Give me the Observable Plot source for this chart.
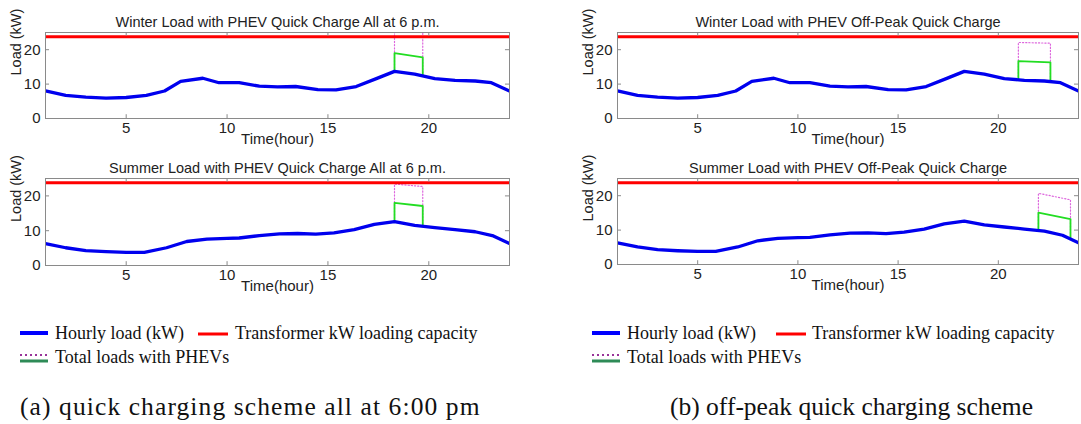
<!DOCTYPE html>
<html><head><meta charset="utf-8">
<script src="https://cdn.jsdelivr.net/npm/d3@7"></script>
<script src="https://cdn.jsdelivr.net/npm/@observablehq/plot@0.6"></script>
<style>
body{margin:0;background:#fff;width:1081px;height:424px;position:relative;overflow:hidden}
.panel{position:absolute}
.panel svg{overflow:visible}
.lg{position:absolute;font-family:"Liberation Serif","Times New Roman",serif;font-size:18px;color:#111;white-space:nowrap;line-height:1}
.cap{position:absolute;font-family:"Liberation Serif","Times New Roman",serif;font-size:25.5px;color:#111;white-space:nowrap;line-height:1}
svg.sw{position:absolute;overflow:visible}
</style></head><body>
<div id="tl" class="panel" style="left:0;top:0"></div>
<div id="bl" class="panel" style="left:0;top:146px"></div>
<div id="tr" class="panel" style="left:570px;top:0"></div>
<div id="br" class="panel" style="left:570px;top:146px"></div>
<div id="legends"></div>
<script>
// ---- data ----
const winterHours = [1,2,3,4,5,6,6.9,7.7,8.8,9.6,10.6,11.6,12.5,13.4,14.5,15.4,16.4,17.4,18.3,19.3,20.3,21.3,22.3,23.1,24];
const winterLoad  = [8.0,6.7,6.2,5.9,6.1,6.7,8.0,10.8,11.7,10.4,10.4,9.4,9.2,9.3,8.4,8.3,9.3,11.6,13.7,12.9,11.6,11.1,10.9,10.4,8.0];
const summerHours = [1,2,3,4,5,5.9,7,8,9,10,10.6,11.6,12.6,13.5,14.4,15.3,16.3,17.3,18.3,19.3,20.3,21.3,22.3,23.2,24];
const summerLoad  = [6.3,5.1,4.3,4.0,3.8,3.8,5.1,6.9,7.6,7.8,7.9,8.6,9.1,9.2,9.0,9.4,10.3,11.8,12.6,11.5,10.9,10.3,9.7,8.5,6.3];
const capacityKW = 23.8;

// PHEV charging windows: start/end hour, base load, totals (green, pink)
const quickWinterT = [18.3, 19.7], quickWinterBase = [13.7, 12.3], quickWinterGreen = [19.0, 17.8], quickWinterPink = [27.0, 26.5];
const quickSummerT = [18.3, 19.7], quickSummerBase = [12.6, 11.3], quickSummerGreen = [18.0, 17.1], quickSummerPink = [23.4, 22.7];
const offWinterT   = [21.0, 22.6], offWinterBase   = [11.2, 10.7], offWinterGreen   = [16.7, 16.3], offWinterPink   = [22.1, 21.9];
const offSummerT   = [22.0, 23.6], offSummerBase   = [9.9, 7.5],   offSummerGreen   = [15.1, 13.2], offSummerPink   = [20.7, 18.8];

const xTicks = [5, 10, 15, 20];
const yTicks = [0, 10, 20];
const titles = [
  "Winter Load with PHEV Quick Charge All at 6 p.m.",
  "Summer Load with PHEV Quick Charge All at 6 p.m.",
  "Winter Load with PHEV Off-Peak Quick Charge",
  "Summer Load with PHEV Off-Peak Quick Charge"
];
const xLabel = "Time(hour)";
const yLabel = "Load (kW)";

function box(t, base, top) {
  return [
    {h: t[0], v: base[0]}, {h: t[0], v: top[0]},
    {h: t[1], v: top[1]}, {h: t[1], v: base[1]}
  ];
}

function panel(o) {
  const blue = o.hours.map((h, i) => ({h, v: o.load[i]}));
  const green = box(o.t, o.base, o.green);
  const pink = box(o.t, o.base, o.pink);
  const grey = "#8a8a8a";
  return Plot.plot({
    width: o.width, height: o.height,
    marginLeft: o.ml, marginRight: o.mr, marginTop: 32, marginBottom: o.height - 32 - o.ph,
    x: {domain: [1, 24]},
    y: {domain: [0, 25]},
    style: {fontFamily: "'Liberation Sans', Arial, sans-serif", fontSize: "15px", color: "#222", background: "transparent"},
    marks: [
      Plot.line(pink, {x: "h", y: "v", stroke: "#dd66dd", strokeWidth: 1.2, strokeDasharray: "1.2,2", clip: true}),
      Plot.ruleY([capacityKW], {stroke: "#ff0000", strokeWidth: 3}),
      Plot.line(green, {x: "h", y: "v", stroke: "#22dd22", strokeWidth: 1.8, clip: true}),
      Plot.line(blue, {x: "h", y: "v", stroke: "#0000ee", strokeWidth: 3.3, clip: true}),
      Plot.frame({stroke: grey}),
      Plot.ruleX(xTicks, {y1: 0, y2: 1.1, stroke: grey}),
      Plot.ruleX(xTicks, {y1: 25, y2: 23.9, stroke: grey}),
      Plot.ruleY(yTicks, {x1: 1, x2: 1.2, stroke: grey}),
      Plot.ruleY(yTicks, {x1: 24, x2: 23.8, stroke: grey}),
      Plot.axisX(xTicks, {tickSize: 0, tickPadding: 4, label: null}),
      Plot.axisY(yTicks, {tickSize: 0, tickPadding: 5, label: null}),
      Plot.text([o.title], {frameAnchor: "top", dy: -16, fontSize: 14.5}),
      Plot.text([xLabel], {frameAnchor: "bottom", dy: 25}),
      Plot.text([yLabel], {frameAnchor: "left", dx: -29, rotate: -90, fontSize: 14.5})
    ]
  });
}

document.getElementById("tl").append(panel({title: titles[0], hours: winterHours, load: winterLoad, t: quickWinterT, base: quickWinterBase, green: quickWinterGreen, pink: quickWinterPink, width: 540, ml: 45, mr: 31, height: 150, ph: 86}));
document.getElementById("bl").append(panel({title: titles[1], hours: summerHours, load: summerLoad, t: quickSummerT, base: quickSummerBase, green: quickSummerGreen, pink: quickSummerPink, width: 540, ml: 45, mr: 31, height: 151, ph: 87}));
document.getElementById("tr").append(panel({title: titles[2], hours: winterHours, load: winterLoad, t: offWinterT, base: offWinterBase, green: offWinterGreen, pink: offWinterPink, width: 511, ml: 47, mr: 3, height: 150, ph: 86}));
document.getElementById("br").append(panel({title: titles[3], hours: summerHours, load: summerLoad, t: offSummerT, base: offSummerBase, green: offSummerGreen, pink: offSummerPink, width: 511, ml: 47, mr: 3, height: 150, ph: 86}));

// ---- legends and captions ----
const legendLabels = ["Hourly load (kW)", "Transformer kW loading capacity", "Total loads with PHEVs"];
const captions = ["(a) quick charging scheme all at 6:00 pm", "(b) off-peak quick charging scheme"];
const L = document.getElementById("legends");
function sw(x, y, w, stroke, sw_, dash) {
  const s = document.createElementNS("http://www.w3.org/2000/svg", "svg");
  s.setAttribute("class", "sw");
  s.setAttribute("width", w); s.setAttribute("height", 8);
  s.style.left = x + "px"; s.style.top = (y - 4) + "px";
  const l = document.createElementNS("http://www.w3.org/2000/svg", "line");
  l.setAttribute("x1", 0); l.setAttribute("x2", w); l.setAttribute("y1", 4); l.setAttribute("y2", 4);
  l.setAttribute("stroke", stroke); l.setAttribute("stroke-width", sw_);
  l.setAttribute("stroke-linecap", "butt");
  if (dash) l.setAttribute("stroke-dasharray", dash);
  s.append(l); L.append(s);
}
function txt(x, yc, t, cls, ls) {
  const d = document.createElement("div");
  d.className = cls; d.textContent = t;
  d.style.left = x + "px"; d.style.top = yc + "px"; d.style.transform = "translateY(-50%)";
  if (ls != null) d.style.letterSpacing = ls + "px";
  L.append(d);
}
function legend(x0, xRed, xRedText) {
  sw(x0, 333, 28, "#0000ff", 4);
  txt(x0 + 35, 333, legendLabels[0], "lg");
  sw(xRed, 334, 30, "#ff0000", 3);
  txt(xRedText, 333, legendLabels[1], "lg");
  sw(x0, 355, 28, "#993399", 2, "2,3");
  sw(x0, 361, 28, "#2e8b57", 3);
  txt(x0 + 35, 357, legendLabels[2], "lg");
}
legend(20, 198, 235);
legend(592, 776, 812);
txt(20, 407, captions[0], "cap", 1.1);
txt(670, 407, captions[1], "cap", 0);
</script>
</body></html>
